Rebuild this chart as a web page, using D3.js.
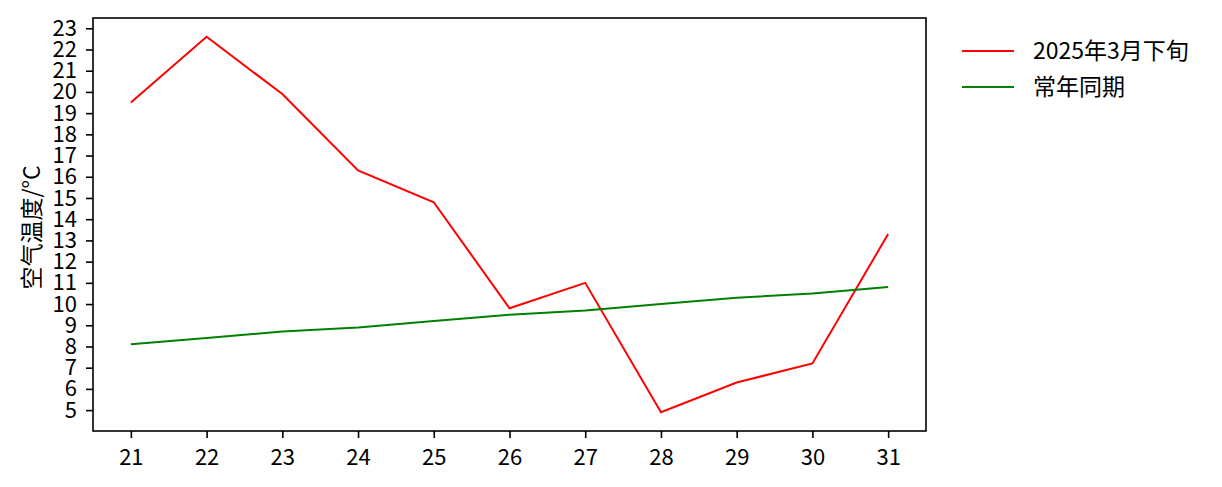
<!DOCTYPE html>
<html>
<head>
<meta charset="utf-8">
<script src="https://cdn.jsdelivr.net/npm/d3@7"></script>
<style>
  body { margin: 0; background: #fff; }
  text { font-family: "Noto Sans CJK SC", "Noto Sans", sans-serif; }
</style>
</head>
<body>
<svg id="chart" width="1222" height="487"></svg>
<script>
// days of late March
var days = [21, 22, 23, 24, 25, 26, 27, 28, 29, 30, 31];
var temp2025 = [19.5, 22.6, 19.9, 16.3, 14.8, 9.8, 11.0, 4.9, 6.3, 7.2, 13.3];
var tempNormal = [8.1, 8.4, 8.7, 8.9, 9.2, 9.5, 9.7, 10.0, 10.3, 10.5, 10.8];
var yTicks = [5, 6, 7, 8, 9, 10, 11, 12, 13, 14, 15, 16, 17, 18, 19, 20, 21, 22, 23];
var seriesNames = ["2025年3月下旬", "常年同期"];
var seriesColors = ["#ff0000", "#008000"];

var mLeft = 93, mRight = 926, mTop = 18, mBottom = 431;

var svg = d3.select("#chart");

// matplotlib style 5% padding
var xpad = (d3.max(days) - d3.min(days)) * 0.05;
var x = d3.scaleLinear()
  .domain([d3.min(days) - xpad, d3.max(days) + xpad])
  .range([mLeft, mRight]);

var allVals = temp2025.concat(tempNormal);
var ylo = d3.min(allVals), yhi = d3.max(allVals);
var ypad = (yhi - ylo) * 0.05;
var y = d3.scaleLinear()
  .domain([ylo - ypad, yhi + ypad])
  .range([mBottom, mTop]);

var line = d3.line()
  .x(function(d, i) { return x(days[i]); })
  .y(function(d) { return y(d); });

[temp2025, tempNormal].forEach(function(s, k) {
  svg.append("path")
    .datum(s)
    .attr("d", line)
    .attr("fill", "none")
    .attr("stroke", seriesColors[k])
    .attr("stroke-width", 2);
});

// axes
var xAxis = svg.append("g")
  .attr("transform", "translate(0," + mBottom + ")")
  .call(d3.axisBottom(x).tickValues(days).tickSize(7).tickPadding(11).tickFormat(d3.format("d")));
var yAxis = svg.append("g")
  .attr("transform", "translate(" + mLeft + ",0)")
  .call(d3.axisLeft(y).tickValues(yTicks).tickSize(7).tickPadding(9).tickFormat(d3.format("d")));

[xAxis, yAxis].forEach(function(g) {
  g.select(".domain").remove();
  g.selectAll(".tick line").attr("stroke", "#000").attr("stroke-width", 1.6);
  g.selectAll(".tick text").attr("fill", "#000").style("font-size", "22px")
    .style("font-family", "'Noto Sans CJK SC', sans-serif");
});

// frame
svg.append("rect")
  .attr("x", mLeft).attr("y", mTop)
  .attr("width", mRight - mLeft).attr("height", mBottom - mTop)
  .attr("fill", "none").attr("stroke", "#000").attr("stroke-width", 1.6);

// y label
svg.append("text")
  .attr("transform", "translate(40," + ((mTop + mBottom) / 2 + 3) + ") rotate(-90)")
  .attr("text-anchor", "middle")
  .style("font-size", "23px")
  .text("空气温度/°C");

// legend
var legend = svg.append("g");
seriesNames.forEach(function(name, k) {
  var ly = 51 + k * 36;
  legend.append("line")
    .attr("x1", 962).attr("x2", 1014)
    .attr("y1", ly).attr("y2", ly)
    .attr("stroke", seriesColors[k]).attr("stroke-width", 2);
  legend.append("text")
    .attr("x", 1033).attr("y", ly)
    .attr("dy", "0.35em")
    .style("font-size", "23px")
    .text(name);
});
</script>
</body>
</html>
